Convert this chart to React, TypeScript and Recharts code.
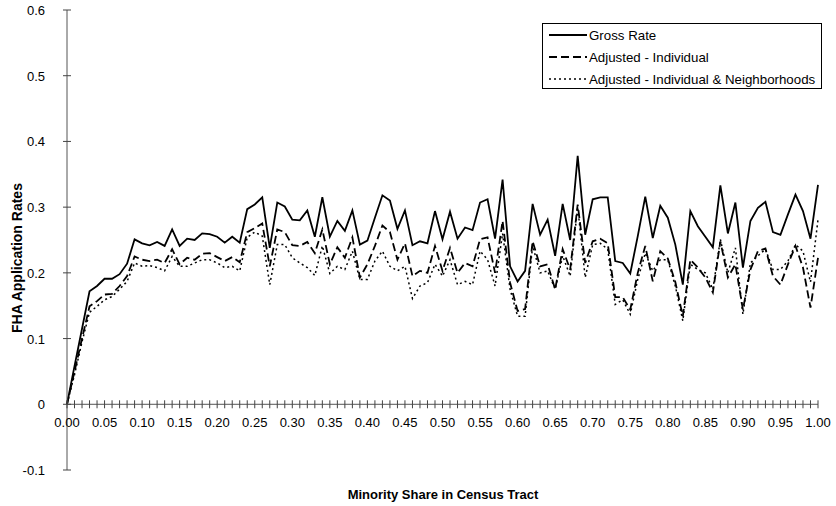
import React from 'react';
import { LineChart, Line, XAxis, YAxis, ReferenceLine, Legend } from 'recharts';

const shares: number[] = Array.from({ length: 101 }, (_, i) => i / 100);

const grossRate: number[] = [
  0, 0.058, 0.115, 0.172, 0.18, 0.191, 0.191, 0.198, 0.214, 0.251, 0.245,
  0.242, 0.247, 0.241, 0.266, 0.241, 0.252, 0.25, 0.26, 0.259, 0.255,
  0.246, 0.255, 0.246, 0.297, 0.304, 0.315, 0.238, 0.307, 0.301, 0.281,
  0.28, 0.295, 0.255, 0.315, 0.255, 0.279, 0.264, 0.295, 0.243, 0.249,
  0.284, 0.318, 0.31, 0.267, 0.295, 0.242, 0.248, 0.245, 0.294, 0.251,
  0.293, 0.252, 0.269, 0.265, 0.307, 0.312, 0.252, 0.342, 0.21, 0.187,
  0.203, 0.305, 0.258, 0.281, 0.226, 0.305, 0.25, 0.378, 0.258, 0.312,
  0.315, 0.315, 0.218, 0.215, 0.199, 0.256, 0.316, 0.253, 0.302, 0.284,
  0.243, 0.182, 0.294, 0.271, 0.255, 0.239, 0.333, 0.26, 0.307, 0.208,
  0.279, 0.299, 0.308, 0.262, 0.258, 0.289, 0.319, 0.294, 0.252, 0.334,
];

const adjustedIndividual: number[] = [
  0, 0.05, 0.1, 0.149, 0.157, 0.167, 0.168, 0.18, 0.195, 0.225, 0.22,
  0.218, 0.22, 0.215, 0.236, 0.213, 0.223, 0.22, 0.229, 0.23, 0.224,
  0.218, 0.224, 0.216, 0.262, 0.268, 0.275, 0.21, 0.266, 0.262, 0.242,
  0.241, 0.247, 0.23, 0.266, 0.213, 0.239, 0.223, 0.254, 0.193, 0.213,
  0.241, 0.272, 0.262, 0.22, 0.245, 0.195, 0.203, 0.2, 0.241, 0.203,
  0.238, 0.2, 0.215, 0.21, 0.251, 0.254, 0.2, 0.279, 0.185, 0.142,
  0.145, 0.248, 0.21, 0.213, 0.175, 0.236, 0.205, 0.304, 0.215, 0.248,
  0.252, 0.245, 0.163, 0.163, 0.144, 0.2, 0.241, 0.187, 0.233, 0.222,
  0.186, 0.134, 0.22, 0.208, 0.193, 0.17, 0.248, 0.193, 0.213, 0.144,
  0.205, 0.233, 0.237, 0.195, 0.182, 0.213, 0.241, 0.208, 0.147, 0.223,
];

const adjustedNeighborhoods: number[] = [
  0, 0.045, 0.095, 0.14, 0.149, 0.159, 0.164, 0.175, 0.187, 0.215, 0.21,
  0.211, 0.208, 0.203, 0.225, 0.21, 0.21, 0.215, 0.22, 0.22, 0.215,
  0.208, 0.21, 0.203, 0.254, 0.262, 0.256, 0.182, 0.243, 0.243, 0.223,
  0.215, 0.208, 0.196, 0.241, 0.199, 0.21, 0.205, 0.233, 0.19, 0.19,
  0.218, 0.233, 0.21, 0.203, 0.21, 0.161, 0.18, 0.185, 0.213, 0.195,
  0.22, 0.182, 0.187, 0.182, 0.233, 0.22, 0.18, 0.26, 0.175, 0.134,
  0.134, 0.241, 0.2, 0.203, 0.175, 0.226, 0.195, 0.3, 0.193, 0.243,
  0.245, 0.236, 0.152, 0.159, 0.137, 0.19, 0.23, 0.203, 0.22, 0.22,
  0.18, 0.127, 0.213, 0.205, 0.2, 0.175, 0.251, 0.2, 0.238, 0.137,
  0.215, 0.226, 0.236, 0.205, 0.205, 0.218, 0.243, 0.233, 0.186, 0.281,
];

const yTicks: number[] = [-0.1, 0, 0.1, 0.2, 0.3, 0.4, 0.5, 0.6];
const seriesNames: string[] = [
  'Gross Rate',
  'Adjusted - Individual',
  'Adjusted - Individual & Neighborhoods',
];
const xTitle = 'Minority Share in Census Tract';
const yTitle = 'FHA Application Rates';

const data = shares.map((s, i) => ({
  share: s,
  gross: grossRate[i],
  adjInd: adjustedIndividual[i],
  adjNbhd: adjustedNeighborhoods[i],
}));

const W = 836;
const H = 506;
const TOP = 10;
const LEFT = 67;
const RIGHT = 18;
const PLOT_BOTTOM = 470;
const PLOT_H = PLOT_BOTTOM - TOP;
const Y_MIN = -0.1;
const Y_MAX = 0.6;
const ZERO_Y = TOP + (PLOT_H * Y_MAX) / (Y_MAX - Y_MIN);
const FONT = '"Liberation Sans", Arial, sans-serif';

const XTick = (props: any) => {
  const { x, payload } = props;
  const v: number = payload.value;
  const idx = Math.round(v * 100);
  const major = idx % 5 === 0;
  return (
    <g>
      <line x1={x} x2={x} y1={ZERO_Y - 4} y2={ZERO_Y + 4} stroke="#444" strokeWidth={1} />
      {major && (
        <text x={x} y={ZERO_Y + 23} textAnchor="middle" fontSize={13} fontFamily={FONT} fill="#000">
          {v.toFixed(2)}
        </text>
      )}
    </g>
  );
};

const YTick = (props: any) => {
  const { x, y, payload } = props;
  const v: number = payload.value;
  const label = Math.abs(v) < 1e-9 ? '0' : v.toFixed(1);
  return (
    <g>
      <line x1={x - 4} x2={x + 4} y1={y} y2={y} stroke="#444" strokeWidth={1} />
      <text x={x - 22} y={y + 5} textAnchor="end" fontSize={13} fontFamily={FONT} fill="#000">
        {label}
      </text>
    </g>
  );
};

const LegendBox = () => {
  const rows = [
    { name: seriesNames[0], dash: undefined as string | undefined, w: 1.8 },
    { name: seriesNames[1], dash: '8 4', w: 1.8 },
    { name: seriesNames[2], dash: '2 3', w: 1.5 },
  ];
  return (
    <div
      style={{
        border: '1px solid #000',
        background: '#fff',
        width: 278,
        height: 64,
        boxSizing: 'content-box',
      }}
    >
      {rows.map((r, i) => (
        <div key={i} style={{ display: 'flex', alignItems: 'center', height: 22 }}>
          <svg width={46} height={22} style={{ display: 'block' }}>
            <line x1={6} x2={44} y1={11} y2={11} stroke="#000" strokeWidth={r.w} strokeDasharray={r.dash} />
          </svg>
          <span style={{ fontFamily: FONT, fontSize: 13.3, color: '#000', whiteSpace: 'nowrap' }}>{r.name}</span>
        </div>
      ))}
    </div>
  );
};

export default function App() {
  return (
    <div style={{ position: 'absolute', left: 0, top: 0, width: W, height: H, background: '#fff' }}>
      <LineChart
        width={W}
        height={H}
        data={data}
        margin={{ top: TOP, right: RIGHT, left: 0, bottom: H - PLOT_BOTTOM - 30 }}
      >
        <XAxis
          dataKey="share"
          type="number"
          domain={[0, 1]}
          ticks={shares}
          interval={0}
          height={30}
          axisLine={false}
          tickLine={false}
          tickSize={0}
          tickMargin={0}
          tick={<XTick />}
        />
        <YAxis
          type="number"
          domain={[Y_MIN, Y_MAX]}
          ticks={yTicks}
          width={LEFT}
          interval={0}
          allowDataOverflow
          axisLine={{ stroke: '#555', strokeWidth: 1 }}
          tickLine={false}
          tickSize={0}
          tickMargin={0}
          tick={<YTick />}
        />
        <ReferenceLine y={0} stroke="#555" strokeWidth={1} />
        <Legend
          layout="horizontal"
          align="center"
          verticalAlign="middle"
          content={<LegendBox />}
          wrapperStyle={{ position: 'absolute', left: 542, top: 23, width: 280, height: 66 }}
        />
        <Line
          dataKey="gross"
          name={seriesNames[0]}
          stroke="#000"
          strokeWidth={1.8}
          dot={false}
          isAnimationActive={false}
        />
        <Line
          dataKey="adjInd"
          name={seriesNames[1]}
          stroke="#000"
          strokeWidth={1.8}
          strokeDasharray="8 4"
          dot={false}
          isAnimationActive={false}
        />
        <Line
          dataKey="adjNbhd"
          name={seriesNames[2]}
          stroke="#000"
          strokeWidth={1.5}
          strokeDasharray="2 3"
          dot={false}
          isAnimationActive={false}
        />
      </LineChart>
      <svg
        width={W}
        height={H}
        style={{ position: 'absolute', left: 0, top: 0, pointerEvents: 'none' }}
      >
        <text
          x={443}
          y={499}
          textAnchor="middle"
          fontSize={13}
          fontWeight="bold"
          fontFamily={FONT}
          fill="#000"
        >
          {xTitle}
        </text>
        <text
          transform="translate(22, 258) rotate(-90)"
          textAnchor="middle"
          fontSize={14}
          fontWeight="bold"
          fontFamily={FONT}
          fill="#000"
        >
          {yTitle}
        </text>
      </svg>
    </div>
  );
}
